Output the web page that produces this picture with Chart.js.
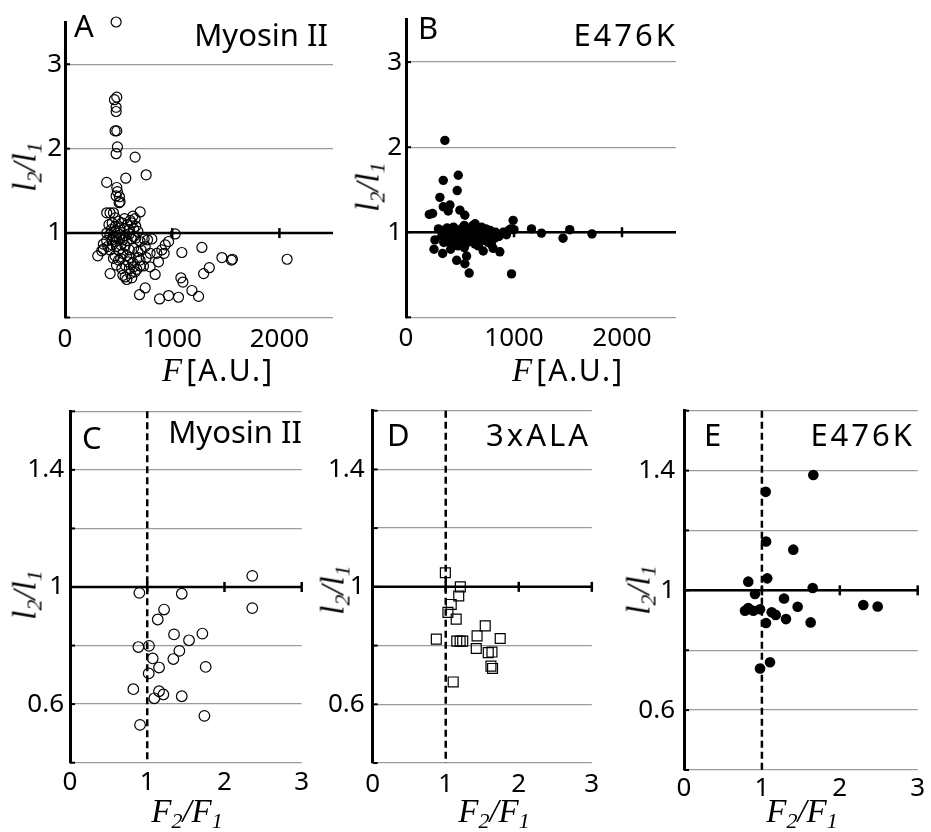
<!DOCTYPE html>
<html>
<head>
<meta charset="utf-8">
<script src="https://cdn.jsdelivr.net/npm/chart.js@4.4.1/dist/chart.umd.min.js"></script>
<style>
  body { margin: 0; background: #fff; }
  #fig { position: relative; width: 931px; height: 832px; overflow: hidden; font-family: 'Noto Sans', sans-serif; color: #000; }
  #fig canvas { position: absolute; }
  .lbl { position: absolute; font-size: 31px; line-height: 1; white-space: nowrap; z-index: 2; }
  .xt, .yt { position: absolute; white-space: nowrap; line-height: 1; z-index: 2; transform: translate(-50%, -50%); }
  .yt { transform: translate(-50%, -50%) rotate(-90deg); }
  .serif { font-family: 'Liberation Serif', serif; font-style: italic; font-size: 33px; }
  .serif sub { font-size: 22px; vertical-align: baseline; position: relative; top: 6px; }
  .sans { font-family: 'Noto Sans', sans-serif; font-size: 30px; letter-spacing: 2px; }
</style>
</head>
<body>
<div id="fig">
  <canvas id="panelA" width="345" height="362" style="left:0;top:0"></canvas>
  <canvas id="panelB" width="345" height="362" style="left:341px;top:0"></canvas>
  <canvas id="panelC" width="310" height="430" style="left:0;top:380px"></canvas>
  <canvas id="panelD" width="290" height="430" style="left:310px;top:380px"></canvas>
  <canvas id="panelE" width="305" height="430" style="left:620px;top:380px"></canvas>

  <div class="lbl" style="left:74px;top:10px">A</div>
  <div class="lbl" style="right:603px;top:19px">Myosin II</div>
  <div class="lbl" style="left:418px;top:12px">B</div>
  <div class="lbl" style="right:253px;top:19px;letter-spacing:3px">E476K</div>
  <div class="lbl" style="left:82px;top:422px">C</div>
  <div class="lbl" style="right:629px;top:416px">Myosin II</div>
  <div class="lbl" style="left:387px;top:419px">D</div>
  <div class="lbl" style="right:340px;top:419px;letter-spacing:3px">3xALA</div>
  <div class="lbl" style="left:704px;top:419px">E</div>
  <div class="lbl" style="right:16px;top:419px;letter-spacing:3px">E476K</div>

  <div class="yt serif" style="left:25px;top:167px">l<sub>2</sub>/l<sub>1</sub></div>
  <div class="yt serif" style="left:368px;top:187px">l<sub>2</sub>/l<sub>1</sub></div>
  <div class="yt serif" style="left:25px;top:595px">l<sub>2</sub>/l<sub>1</sub></div>
  <div class="yt serif" style="left:333px;top:590px">l<sub>2</sub>/l<sub>1</sub></div>
  <div class="yt serif" style="left:639px;top:590px">l<sub>2</sub>/l<sub>1</sub></div>

  <div class="xt" style="left:218px;top:370px"><span class="serif">F</span> <span class="sans">[A.U.]</span></div>
  <div class="xt" style="left:568px;top:370px"><span class="serif">F</span> <span class="sans">[A.U.]</span></div>
  <div class="xt serif" style="left:187px;top:811px">F<sub>2</sub>/F<sub>1</sub></div>
  <div class="xt serif" style="left:494px;top:811px">F<sub>2</sub>/F<sub>1</sub></div>
  <div class="xt serif" style="left:802px;top:811px">F<sub>2</sub>/F<sub>1</sub></div>
</div>

<script>
// ticks
const fTicks = [0, 1000, 2000];
const fLabels = ['0', '1000', '2000'];
const ratioTicksTop = [0, 1, 2, 3];
const ratioLabelsTop = ['', '1', '2', '3'];
const foldTicks = [0, 1, 2, 3];
const foldLabels = ['0', '1', '2', '3'];
const ratioTicksBottom = [0.4, 0.6, 0.8, 1.0, 1.2, 1.4, 1.6];
const ratioLabelsBottom = ['', '0.6', '', '1', '', '1.4', ''];

// A: wild type myosin II, [F, l2/l1]
const myosinPoints = [
  [477,3.50],[483,2.61],[461,2.58],[477,2.49],[477,2.44],[467,2.21],[483,2.21],[489,2.02],[477,1.94],
  [654,1.90],[757,1.69],[567,1.65],[389,1.60],[483,1.54],[489,1.49],[477,1.44],[508,1.43],[514,1.37],[505,1.36],
  [389,1.24],[420,1.24],[452,1.24],[701,1.25],[633,1.20],[654,1.17],[608,1.15],[555,1.17],[470,1.18],[500,1.14],
  [530,1.12],[580,1.10],[620,1.12],[660,1.08],[440,1.12],[410,1.10],[470,1.08],[510,1.06],[550,1.05],[600,1.04],
  [640,1.05],[680,1.02],[430,1.04],[460,1.02],[490,1.00],[520,0.98],[560,0.97],[600,0.99],[640,0.96],[389,1.00],
  [420,0.98],[450,0.96],[480,0.95],[510,0.93],[540,0.92],[580,0.91],[620,0.93],[660,0.94],[440,0.92],[470,0.90],
  [1028,0.99],
  [701,0.90],[738,0.93],[770,0.92],[810,0.93],[966,0.90],[935,0.86],[903,0.80],[925,0.76],[857,0.76],[872,0.66],
  [794,0.76],[748,0.84],[757,0.71],[794,0.60],[841,0.51],[748,0.35],[695,0.27],[882,0.22],[966,0.26],[1059,0.24],
  [1184,0.32],[1246,0.25],[1081,0.47],[1100,0.42],[1090,0.77],[1277,0.83],[1293,0.52],[1346,0.59],[1464,0.71],
  [1552,0.68],[1562,0.69],[2072,0.69],
  [421,0.52],[305,0.73],[343,0.79],[358,0.81],[358,0.87],[389,0.91],[400,0.84],[420,0.80],[467,0.73],[452,0.70],
  [530,0.58],[561,0.48],[576,0.45],[623,0.47],[654,0.54],[670,0.57],[576,0.73],[607,0.71],[632,0.65],[685,0.71],
  [701,0.61],[732,0.61],[500,0.80],[540,0.76],[520,0.70],[560,0.62],[600,0.58],[640,0.60],[480,0.62],[500,0.68],
  [600,0.80],[640,0.82],[680,0.78],[710,0.80],[560,0.85],[520,0.86],[480,0.84],[440,0.86],[700,0.68],[590,0.66],
  [540,0.50],[610,0.52]
];

// B: E476K mutant, [F, l2/l1]
const e476kPoints = [
  [360,2.08],[345,1.61],[484,1.67],[474,1.49],[314,1.41],[407,1.32],[345,1.30],[391,1.25],[216,1.21],[246,1.22],
  [499,1.26],[545,1.20],[992,1.14],[1162,1.04],[1254,0.99],[1454,0.93],[1516,1.03],[1722,0.98],[977,0.51],[585,0.52],
  [545,0.63],[469,0.67],[561,0.72],[259,0.80],[339,0.75],[413,0.80],[869,0.77],[807,0.81],[715,0.78],[268,0.91],
  [300,1.04],[330,1.02],[360,1.00],[380,1.05],[400,0.98],[420,1.03],[440,1.06],[460,0.99],[480,1.02],[500,0.95],
  [520,1.05],[540,1.08],[560,1.00],[580,0.96],[600,1.03],[620,1.08],[640,1.10],[660,1.04],[680,0.98],[700,1.06],
  [720,1.02],[740,1.04],[760,0.99],[780,1.02],[800,0.97],[830,1.00],[860,0.95],[900,1.00],[930,0.97],[950,1.02],
  [970,1.04],[1000,1.03],[350,0.88],[380,0.92],[420,0.86],[450,0.90],[480,0.84],[510,0.90],[540,0.82],[570,0.88],
  [610,0.92],[640,0.86],[670,0.84],[700,0.90],[730,0.92],[760,0.88],[790,0.86],[820,0.93],[440,0.95],[600,0.95],
  [650,0.96],[560,0.93],[330,0.95],[720,0.97]
];

// C-E: [F2/F1, l2/l1]
const myosinFoldPoints = [
  [2.36,1.038],[2.36,0.928],[0.898,0.980],[1.447,0.977],[1.218,0.923],[1.136,0.889],[1.347,0.838],[1.714,0.841],
  [1.541,0.818],[0.885,0.795],[1.023,0.799],[1.416,0.782],[1.071,0.756],[1.338,0.754],[1.153,0.725],[1.757,0.727],
  [1.019,0.705],[0.820,0.651],[1.153,0.644],[1.209,0.633],[1.092,0.620],[1.447,0.627],[1.740,0.560],[0.907,0.529]
];
const alaFoldPoints = [
  [0.995,1.048],[1.20,1.000],[1.178,0.969],[1.075,0.940],[1.03,0.913],[1.143,0.890],[1.541,0.867],[1.429,0.833],
  [0.871,0.822],[1.746,0.824],[1.151,0.815],[1.197,0.815],[1.233,0.815],[1.418,0.790],[1.582,0.776],[1.633,0.778],
  [1.619,0.730],[1.641,0.722],[1.102,0.676]
];
const e476kFoldPoints = [
  [1.660,1.385],[1.049,1.329],[1.053,1.163],[1.403,1.136],[1.069,1.040],[0.825,1.029],[1.652,1.008],[0.911,0.988],
  [1.284,0.973],[0.783,0.932],[0.825,0.941],[0.890,0.932],[0.976,0.937],[1.459,0.945],[1.126,0.927],[1.177,0.918],
  [1.309,0.904],[1.626,0.893],[1.053,0.891],[2.302,0.951],[2.486,0.946],[1.104,0.760],[0.976,0.739]
];

Chart.defaults.font.family = "'Noto Sans', sans-serif";
Chart.defaults.font.size = 26;
Chart.defaults.color = '#000';

// black l2/l1 = 1 line with its ticks, inner y ticks, optional dashed F2/F1 = 1 line
const refLines = {
  id: 'refLines',
  beforeDatasetsDraw(chart, args, opts) {
    const { ctx, chartArea: a, scales: { x, y } } = chart;
    ctx.save();
    ctx.strokeStyle = '#000';
    ctx.lineWidth = 2;
    y.ticks.forEach(t => {
      const py = y.getPixelForValue(t.value);
      ctx.beginPath();
      ctx.moveTo(a.left, py);
      ctx.lineTo(a.left + 5, py);
      ctx.stroke();
    });
    const y1 = y.getPixelForValue(1);
    ctx.lineWidth = 2.5;
    ctx.beginPath();
    ctx.moveTo(a.left, y1);
    ctx.lineTo(a.right, y1);
    ctx.stroke();
    x.ticks.forEach(t => {
      if (t.value <= 0) return;
      const px = x.getPixelForValue(t.value);
      ctx.beginPath();
      ctx.moveTo(px, y1 - 5);
      ctx.lineTo(px, y1 + 5);
      ctx.stroke();
    });
    if (opts.dashedAt != null) {
      const px = x.getPixelForValue(opts.dashedAt);
      ctx.setLineDash([7, 4]);
      ctx.lineWidth = 2.5;
      ctx.beginPath();
      ctx.moveTo(px, a.top);
      ctx.lineTo(px, a.bottom);
      ctx.stroke();
    }
    ctx.restore();
  }
};

const openCircle = { pointStyle: 'circle', pointRadius: 5, backgroundColor: 'rgba(0,0,0,0)', borderColor: '#000', borderWidth: 1.2 };
const dot = { pointStyle: 'circle', pointRadius: 4.7, backgroundColor: '#000', borderColor: '#000', borderWidth: 0 };
const openSquare = { pointStyle: 'rect', pointRadius: 7, backgroundColor: 'rgba(0,0,0,0)', borderColor: '#000', borderWidth: 1.2 };

function panel(id, c) {
  return new Chart(document.getElementById(id), {
    type: 'scatter',
    data: {
      datasets: [Object.assign({ data: c.points.map(([x, y]) => ({ x, y })), clip: false }, c.marker)]
    },
    options: {
      responsive: false,
      animation: false,
      events: [],
      layout: { padding: { top: c.padTop, right: c.padRight, left: 0, bottom: 0 } },
      plugins: { legend: { display: false }, tooltip: { enabled: false }, refLines: { dashedAt: c.dashedAt } },
      scales: {
        x: {
          type: 'linear', min: c.xMin, max: c.xMax,
          afterBuildTicks: s => { s.ticks = c.xTicks.map(v => ({ value: v })); },
          afterFit: s => { s.height = c.xAxisH; },
          grid: { display: false },
          border: { display: false },
          ticks: { padding: c.xPad, autoSkip: false, maxRotation: 0, callback: (v, i) => c.xLabels[i] }
        },
        y: {
          type: 'linear', min: c.yMin, max: c.yMax,
          afterBuildTicks: s => { s.ticks = c.yTicks.map(v => ({ value: v })); },
          afterFit: s => { s.width = c.yAxisW; },
          grid: { color: '#9a9a9a', lineWidth: 1.3, drawTicks: false },
          border: { display: true, color: '#000', width: 3 },
          ticks: { padding: c.yPad, autoSkip: false, callback: (v, i) => c.yLabels[i] }
        }
      }
    },
    plugins: [refLines]
  });
}

panel('panelA', {
  points: myosinPoints, marker: openCircle,
  xMin: 0, xMax: 2500, xTicks: fTicks, xLabels: fLabels,
  yMin: 0, yMax: 3.5, yTicks: ratioTicksTop, yLabels: ratioLabelsTop,
  padTop: 22, padRight: 12, yAxisW: 65, xAxisH: 44.5, xPad: -2, yPad: 3
});
panel('panelB', {
  points: e476kPoints, marker: dot,
  xMin: 0, xMax: 2500, xTicks: fTicks, xLabels: fLabels,
  yMin: 0, yMax: 3.5, yTicks: ratioTicksTop, yLabels: ratioLabelsTop,
  padTop: 18, padRight: 10, yAxisW: 65, xAxisH: 44.7, xPad: -2, yPad: 4
});
panel('panelC', {
  points: myosinFoldPoints, marker: Object.assign({}, openCircle, { pointRadius: 5.3 }), dashedAt: 1,
  xMin: 0, xMax: 3, xTicks: foldTicks, xLabels: foldLabels,
  yMin: 0.4, yMax: 1.6, yTicks: ratioTicksBottom, yLabels: ratioLabelsBottom,
  padTop: 31.3, padRight: 8.3, yAxisW: 70, xAxisH: 47.3, xPad: -3.5, yPad: 6
});
panel('panelD', {
  points: alaFoldPoints, marker: openSquare, dashedAt: 1,
  xMin: 0, xMax: 3, xTicks: foldTicks, xLabels: foldLabels,
  yMin: 0.4, yMax: 1.6, yTicks: ratioTicksBottom, yLabels: ratioLabelsBottom,
  padTop: 30.7, padRight: 6.7, yAxisW: 62.7, xAxisH: 47, xPad: -2.5, yPad: 8
});
panel('panelE', {
  points: e476kFoldPoints, marker: Object.assign({}, dot, { pointRadius: 5.3 }), dashedAt: 1,
  xMin: 0, xMax: 3, xTicks: foldTicks, xLabels: foldLabels,
  yMin: 0.4, yMax: 1.6, yTicks: ratioTicksBottom, yLabels: ratioLabelsBottom,
  padTop: 30.7, padRight: 7.3, yAxisW: 64, xAxisH: 40, xPad: -5, yPad: 9
});
</script>
</body>
</html>
